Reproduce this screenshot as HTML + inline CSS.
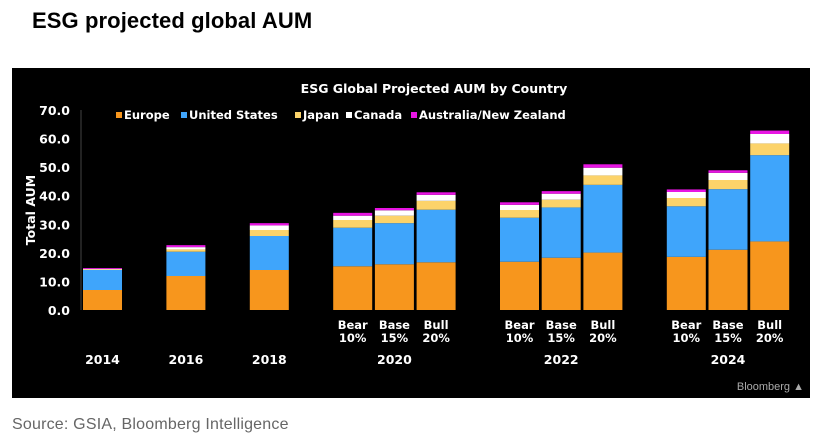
<!DOCTYPE html>
<html><head><meta charset="utf-8"><style>
body{margin:0;width:818px;height:441px;background:#fff;overflow:hidden;font-family:"Liberation Sans",sans-serif}
#t{position:absolute;left:32px;top:8px;font-size:22px;font-weight:bold;color:#000;letter-spacing:0.1px}
#src{position:absolute;left:12px;top:416px;font-size:16px;color:#666;letter-spacing:0.2px}
svg{position:absolute;left:0;top:0}
svg text{font-family:"DejaVu Sans",sans-serif;font-weight:bold}
</style></head><body>
<div id="t">ESG projected global AUM</div>
<div id="src">Source: GSIA, Bloomberg Intelligence</div>
<svg id="c" width="818" height="441"></svg>
<script>
const categories=["2014","2016","2018","2020 Bear","2020 Base","2020 Bull","2022 Bear","2022 Base","2022 Bull","2024 Bear","2024 Base","2024 Bull"];
const europe=[7.0,11.9,14.0,15.3,16.0,16.7,16.9,18.3,20.1,18.6,21.1,24.0];
const unitedStates=[7.0,8.5,11.9,13.5,14.4,18.4,15.4,17.6,23.7,17.7,21.2,30.2];
const japan=[0.2,0.8,2.1,2.7,2.6,3.1,2.7,2.7,3.3,2.9,3.2,4.1];
const canada=[0.2,0.8,1.6,1.5,1.9,2.1,1.8,2.1,2.7,2.1,2.5,3.3];
const ausNz=[0.3,0.7,0.8,1.0,0.8,0.9,0.9,0.9,1.2,0.9,0.9,1.2];
const slots=[0,2,4,6,7,8,10,11,12,14,15,16];
const scenarioLabels=["","","","Bear|10%","Base|15%","Bull|20%","Bear|10%","Base|15%","Bull|20%","Bear|10%","Base|15%","Bull|20%"];
const yearLabels=["2014","2016","2018","2020","2022","2024"];
const yearSlots=[0,2,4,7,11,15];
const yTicks=[0,10,20,30,40,50,60,70];
const seriesNames=["Europe","United States","Japan","Canada","Australia/New Zealand"];
const seriesColors=["#f7961d","#3fa5fb","#fcd36a","#ffffff","#e815e3"];
const series=[europe,unitedStates,japan,canada,ausNz];

const svg=document.getElementById('c');const NS="http://www.w3.org/2000/svg";
function el(tag,attrs,txt){const e=document.createElementNS(NS,tag);for(const k in attrs)e.setAttribute(k,attrs[k]);if(txt!=null)e.textContent=txt;svg.appendChild(e);return e;}
const y=v=>310-v*200/70;
const x=s=>83+s*41.7;
const bw=39;
const bg=el('rect',{x:12,y:68,width:798,height:330,fill:'#000'});

const ct=el('text',{x:434,y:93,fill:'#fff','font-size':12.5,'text-anchor':'middle'},'ESG Global Projected AUM by Country');

yTicks.forEach(v=>{const t=el('text',{x:70,y:y(v)+5,fill:'#fff','font-size':12.5,'text-anchor':'end'},v.toFixed(1));
});
const ax=el('line',{x1:81,y1:110,x2:81,y2:310,stroke:'#444','stroke-width':1});

const yt=el('text',{x:0,y:0,fill:'#fff','font-size':12.5,'text-anchor':'middle',transform:'translate(35,210) rotate(-90)'},'Total AUM');

let lx=[116,181,295,346,411];
seriesNames.forEach((n,i)=>{const r=el('rect',{x:lx[i],y:112,width:6,height:6,fill:seriesColors[i]});

const t=el('text',{x:lx[i]+8,y:119,fill:'#fff','font-size':11.5},n);
});
categories.forEach((c,i)=>{let acc=0;series.forEach((s,j)=>{const v=s[i];
const r=el('rect',{x:x(slots[i]),y:y(acc+v),width:bw,height:y(acc)-y(acc+v),fill:seriesColors[j]});
acc+=v;});
const lab=scenarioLabels[i];if(lab){const p=lab.split('|');
const a=el('text',{x:x(slots[i])+bw/2,y:329,fill:'#fff','font-size':11.5,'text-anchor':'middle'},p[0]);

const b=el('text',{x:x(slots[i])+bw/2,y:342,fill:'#fff','font-size':11.5,'text-anchor':'middle'},p[1]);
}});
yearLabels.forEach((l,i)=>{const t=el('text',{x:x(yearSlots[i])+bw/2,y:364,fill:'#fff','font-size':12.5,'text-anchor':'middle'},l);
});
const bl=el('text',{x:804,y:390,fill:'#aaa','font-size':11,'text-anchor':'end',style:'font-weight:normal;font-family:Liberation Sans,sans-serif'},'Bloomberg ▲');

</script>
</body></html>
